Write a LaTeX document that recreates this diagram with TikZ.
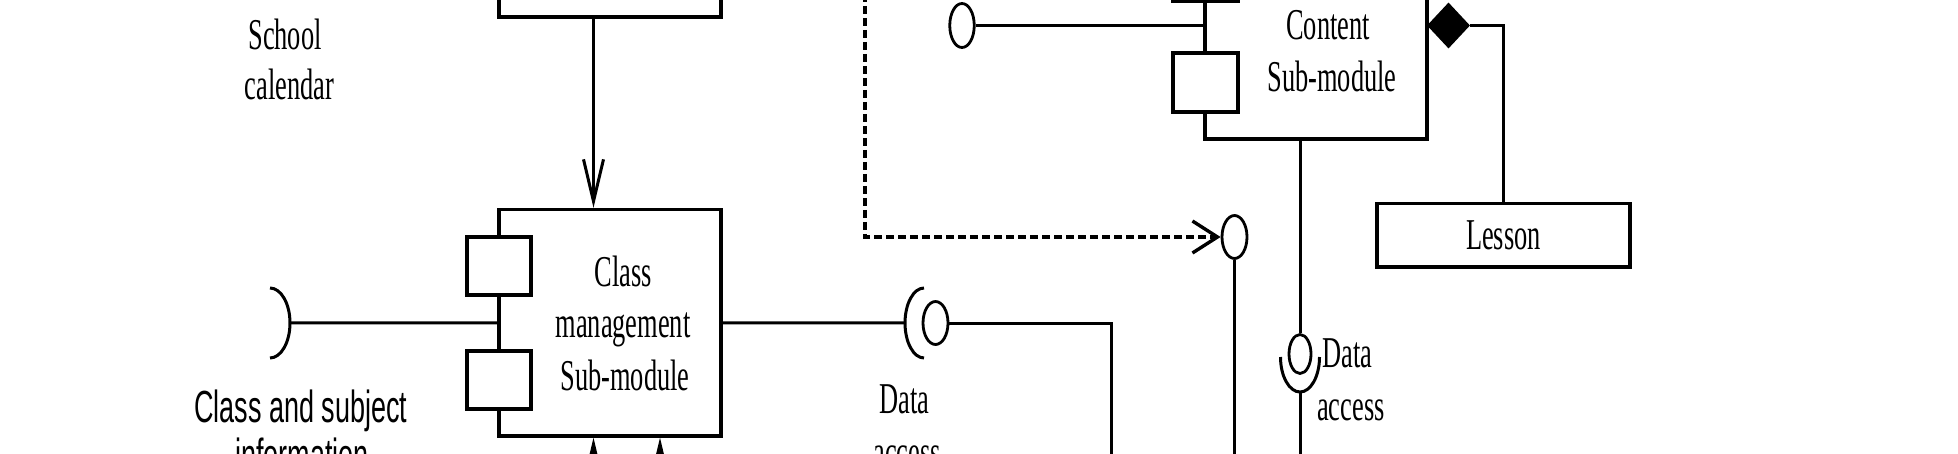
\documentclass[tikz,border=0pt]{standalone}
\usepackage{fontspec}
\setmainfont{Liberation Serif}
\newfontfamily\arialfont{Liberation Sans}
\usepackage{graphicx}
\usetikzlibrary{arrows.meta,shapes.geometric,calc}
\newcommand{\narrowtxt}[1]{\scalebox{0.6}[1]{#1}}
\tikzset{
 box/.style={draw, line width=3.4pt, fill=white, inner sep=0pt},
 port/.style={draw, line width=3.4pt, fill=white, minimum width=65pt, minimum height=59pt, inner sep=0pt},
 conn/.style={line width=3pt},
 ball/.style={draw, ellipse, line width=2.8pt, fill=white, inner sep=0pt, minimum width=25pt, minimum height=43pt},
 lbl/.style={inner sep=0pt, anchor=base, font=\fontsize{44pt}{52pt}\selectfont},
 slbl/.style={inner sep=0pt, anchor=base, font=\arialfont\fontsize{45pt}{52pt}\selectfont},
 barbV/.style={-{Straight Barb[length=42pt,width=20pt]}},
 barbH/.style={-{Straight Barb[length=25pt,width=32pt]}},
 dashline/.style={line width=3.4pt, dash pattern=on 8pt off 4pt},
}
\begin{document}
\begin{tikzpicture}[x=1pt,y=-1pt]
\useasboundingbox[fill=white] (0,0) rectangle (1958,454);
% ---------- left column ----------
\node[box, minimum width=222pt, minimum height=117pt] (top) at (610,-41.5) {};
\node[box, minimum width=222pt, minimum height=226.5pt] (class) at (610,322.75) {};
\node[lbl] (school) at (285,50) {\narrowtxt{School}};
\node[lbl] (calendar) at (289.5,100) {\narrowtxt{calendar}};
\draw[conn, barbV] ([xshift=-16.5pt]top.south) -- ([xshift=-16.5pt]class.north);
\coordinate (b1) at (593.5,485);
\coordinate (b2) at (660,485);
\draw[conn, barbV] (b1) -- (b1 |- class.south);
\draw[conn, barbV] (b2) -- (b2 |- class.south);
% left socket
\coordinate (sockL) at (290,323);
\draw[conn] (class.west) -- (sockL);
\draw[conn] (270,288) arc[start angle=-90, end angle=90, x radius=20, y radius=35];
\node[port, minimum width=64pt, minimum height=58pt] (cp1) at (499,266) {};
\node[port, minimum width=64pt, minimum height=58pt] (cp2) at (499,380) {};
\node[lbl] (c1) at (623,286) {\narrowtxt{Class}};
\node[lbl] (c2) at (623,337) {\narrowtxt{management}};
\node[lbl] (c3) at (625,390) {\narrowtxt{Sub-module}};
\node[slbl] (cs1) at (301,422) {\narrowtxt{Class and subject}};
\node[slbl] (cs2) at (302,470) {\narrowtxt{information}};
% middle socket / ball
\coordinate (sockM) at (905,323);
\draw[conn] (class.east) -- (sockM);
\draw[conn] (924,358) arc[start angle=90, end angle=270, x radius=19, y radius=35];
\node[ball] (mball) at (935.5,323) {};
\coordinate (mcorner) at (1111.6,323);
\coordinate (mdown) at (1111.6,485);
\draw[conn] (mball.east) -- (mcorner) -- (mdown);
\node[lbl] (d1) at (904.5,413) {\narrowtxt{Data}};
\node[lbl] (d2) at (907,466) {\narrowtxt{access}};
% ---------- content sub-module ----------
\node[box, minimum width=222pt, minimum height=259pt] (content) at (1316,9.5) {};
\node[ball, minimum width=24.5pt, minimum height=44pt] (cball) at (962,25.5) {};
\draw[conn] (cball.east) -- (cball.east -| content.west);
\node[port] (cq0) at (1205.5,-28.5) {};
\node[port] (cq1) at (1205.5,82.5) {};
\node[lbl] (ct1) at (1328,40) {\narrowtxt{Content}};
\node[lbl] (ct2) at (1332,92) {\narrowtxt{Sub-module}};
\node[diamond, fill=black, draw=none, minimum width=43pt, minimum height=46pt, inner sep=0pt] (dia) at (1448.5,25.5) {};
\node[box, minimum width=253pt, minimum height=63.5pt, font=\fontsize{44pt}{52pt}\selectfont] (lesson) at (1503.5,235.25) {\narrowtxt{Lesson}};
\draw[conn] (dia.east) -| (lesson.north);
% content bottom ball + socket
\node[ball, minimum width=22pt, minimum height=39pt] (dball) at (1300,354) {};
\draw[conn] (dball.north) -- (dball.north |- content.south);
\draw[conn] (1280.5,357) arc[start angle=180, end angle=0, x radius=19.5, y radius=35];
\coordinate (dsb) at (1300,392);
\coordinate (dsend) at (1300,485);
\draw[conn] (dsb) -- (dsend);
\node[lbl, anchor=base west] (r1) at (1322,367) {\narrowtxt{Data}};
\node[lbl, anchor=base west] (r2) at (1317,420) {\narrowtxt{access}};
% dashed dependency
\coordinate (dstart) at (865,-30);
\node[ball] (dashball) at (1234.5,237) {};
\draw[dashline, barbH] (dstart) |- (dashball.west);
\coordinate (dbend) at (1234.5,485);
\draw[conn] (dashball.south) -- (dbend);
\end{tikzpicture}
\end{document}
